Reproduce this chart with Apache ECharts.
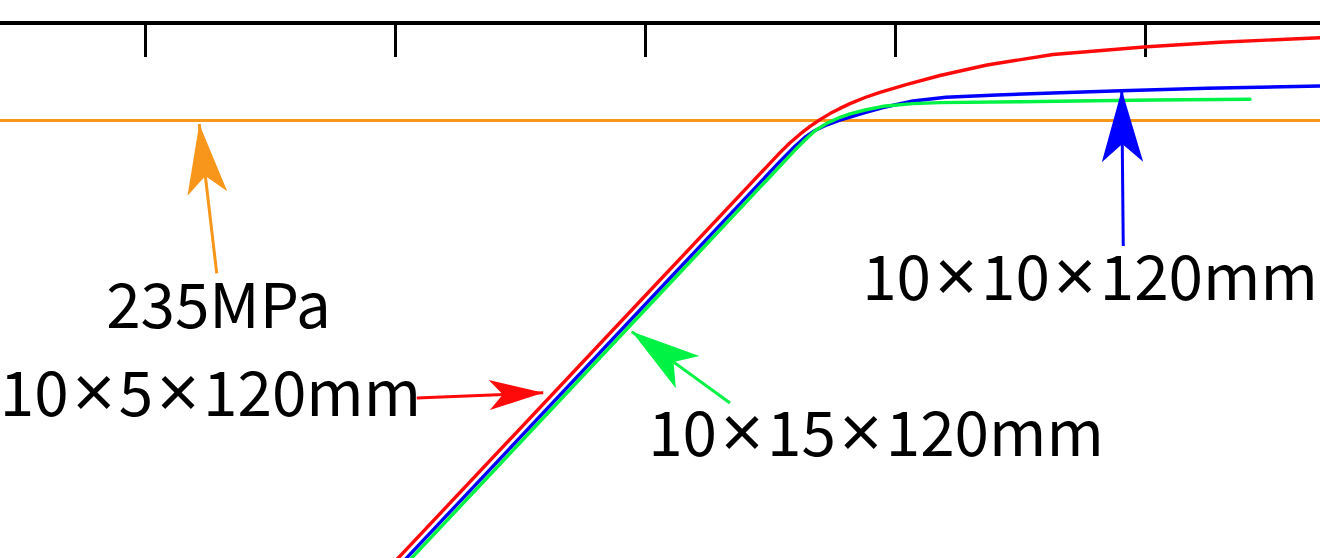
<!DOCTYPE html>
<html>
<head>
<meta charset="utf-8">
<script src="https://cdn.jsdelivr.net/npm/echarts@6/dist/echarts.min.js"></script>
<style>
html,body{margin:0;padding:0;background:#ffffff;}
#chart{width:1320px;height:558px;}
</style>
</head>
<body>
<div id="chart"></div>
<script>
// ---- data ----
const xTicks = [1, 2, 3, 4, 5];
const yieldStress = 235;

const strain5x120 = [1.94, 3.06, 3.54, 3.58, 3.62, 3.66, 3.70, 3.74, 3.78, 3.82, 3.88, 3.94, 4.048, 4.18, 4.368, 4.632, 5.008, 5.30, 5.70];
const stress5x120 = [117.0, 193.7, 226.57, 229.10, 231.32, 233.33, 235.08, 236.63, 237.97, 239.21, 240.78, 242.13, 244.14, 246.46, 249.17, 251.88, 253.89, 255.02, 256.21];

const strain10x120 = [1.972, 3.093, 3.54, 3.60, 3.64, 3.68, 3.728, 3.78, 3.82, 3.88, 3.952, 4.072, 4.204, 4.408, 4.66, 4.904, 5.248, 5.70];
const stress10x120 = [116.9, 193.7, 224.30, 228.20, 230.54, 232.27, 233.74, 234.93, 235.75, 236.89, 238.20, 239.88, 240.84, 241.43, 242.00, 242.51, 243.18, 243.75];

const strain15x120 = [1.988, 3.112, 3.54, 3.60, 3.64, 3.68, 3.728, 3.78, 3.82, 3.88, 3.952, 4.072, 4.18, 4.50, 5.032, 5.42];
const stress15x120 = [116.6, 193.7, 223.1, 227.19, 229.82, 232.20, 234.16, 235.68, 236.58, 237.56, 238.51, 239.21, 239.47, 239.70, 240.14, 240.32];

// annotations (data coordinates)
const annotationTexts = ['235MPa', '10×5×120mm', '10×15×120mm', '10×10×120mm'];
const annotationTextAt = [[1.294, 188.4], [1.262, 165.5], [3.924, 155.4], [4.78, 195.4]];
const arrowTails = [[1.287, 195.4], [2.087, 163.3], [3.34, 162.0], [4.913, 202.5]];
const arrowTips = [[1.217, 233.95], [2.593, 164.6], [2.947, 180.4], [4.907, 242.7]];

// ---- styles ----
const C_ORANGE = '#f7961a';
const C_RED = '#ff0a0a';
const C_BLUE = '#0000ff';
const C_GREEN = '#00f244';
const arrowColors = [C_ORANGE, C_RED, C_GREEN, C_BLUE];
const arrowHeadSizes = [[30, 70], [22.5, 54], [30, 69], [31, 72]];
const FONT = '"Noto Sans CJK JP", "Noto Sans", sans-serif';

function zip(xs, ys) { return xs.map((x, i) => [x, ys[i]]); }

function curve(name, xs, ys, color) {
  return {
    name: name, type: 'line', data: zip(xs, ys),
    showSymbol: false, symbol: 'none', smooth: false,
    lineStyle: { color: color, width: 3.4, join: 'round', cap: 'round' }, itemStyle: { color: color },
    silent: true, animation: false, z: 2
  };
}

const chart = echarts.init(document.getElementById('chart'), null, { renderer: 'svg' });

const option = {
  backgroundColor: '#ffffff',
  animation: false,
  grid: { left: 0, right: 0, top: 23, bottom: 0, containLabel: false, outerBoundsMode: 'none' },
  xAxis: {
    type: 'value', position: 'top', min: 0.42, max: 5.70,
    axisLine: { show: true, onZero: false, lineStyle: { color: '#000', width: 4 } },
    axisTick: { show: true, inside: true, length: 34, customValues: xTicks, lineStyle: { color: '#000', width: 3 } },
    axisLabel: { show: false },
    splitLine: { show: false }
  },
  yAxis: { type: 'value', min: 122, max: 260, show: false, splitLine: { show: false } },
  series: [
    {
      name: 'yield', type: 'line', data: [], silent: true,
      markLine: {
        z: 1, silent: true, symbol: ['none', 'none'], animation: false,
        label: { show: false },
        lineStyle: { color: C_ORANGE, width: 3, type: 'solid' },
        emphasis: { disabled: true },
        data: [{ yAxis: yieldStress }]
      }
    },
    curve('10×10×120mm', strain10x120, stress10x120, C_BLUE),
    curve('10×15×120mm', strain15x120, stress15x120, C_GREEN),
    curve('10×5×120mm', strain5x120, stress5x120, C_RED),
    {
      name: 'annotations', type: 'line', data: [], silent: true,
      markLine: {
        silent: true, animation: false,
        label: { show: false },
        emphasis: { disabled: true },
        data: arrowTails.map((t, i) => [
          { coord: t, symbol: 'none', lineStyle: { color: arrowColors[i], width: 3, type: 'solid' } },
          { coord: arrowTips[i], symbol: 'arrow', symbolSize: arrowHeadSizes[i],
            symbolOffset: [0, 0],
            itemStyle: { color: arrowColors[i] } }
        ])
      },
      markPoint: {
        silent: true, animation: false,
        symbol: 'circle', symbolSize: 0,
        itemStyle: { color: 'rgba(0,0,0,0)' },
        label: {
          show: true, position: 'inside',
          formatter: (p) => p.name.split('×').join('{x|×}'),
          color: '#000', fontSize: 62, fontFamily: FONT, fontWeight: 'normal',
          rich: {
            x: { fontSize: 50, fontWeight: 'bold', fontFamily: FONT, color: '#000' }
          }
        },
        emphasis: { disabled: true },
        data: annotationTexts.map((s, i) => ({ name: s, coord: annotationTextAt[i] }))
      }
    }
  ]
};
chart.setOption(option);
</script>
</body>
</html>
